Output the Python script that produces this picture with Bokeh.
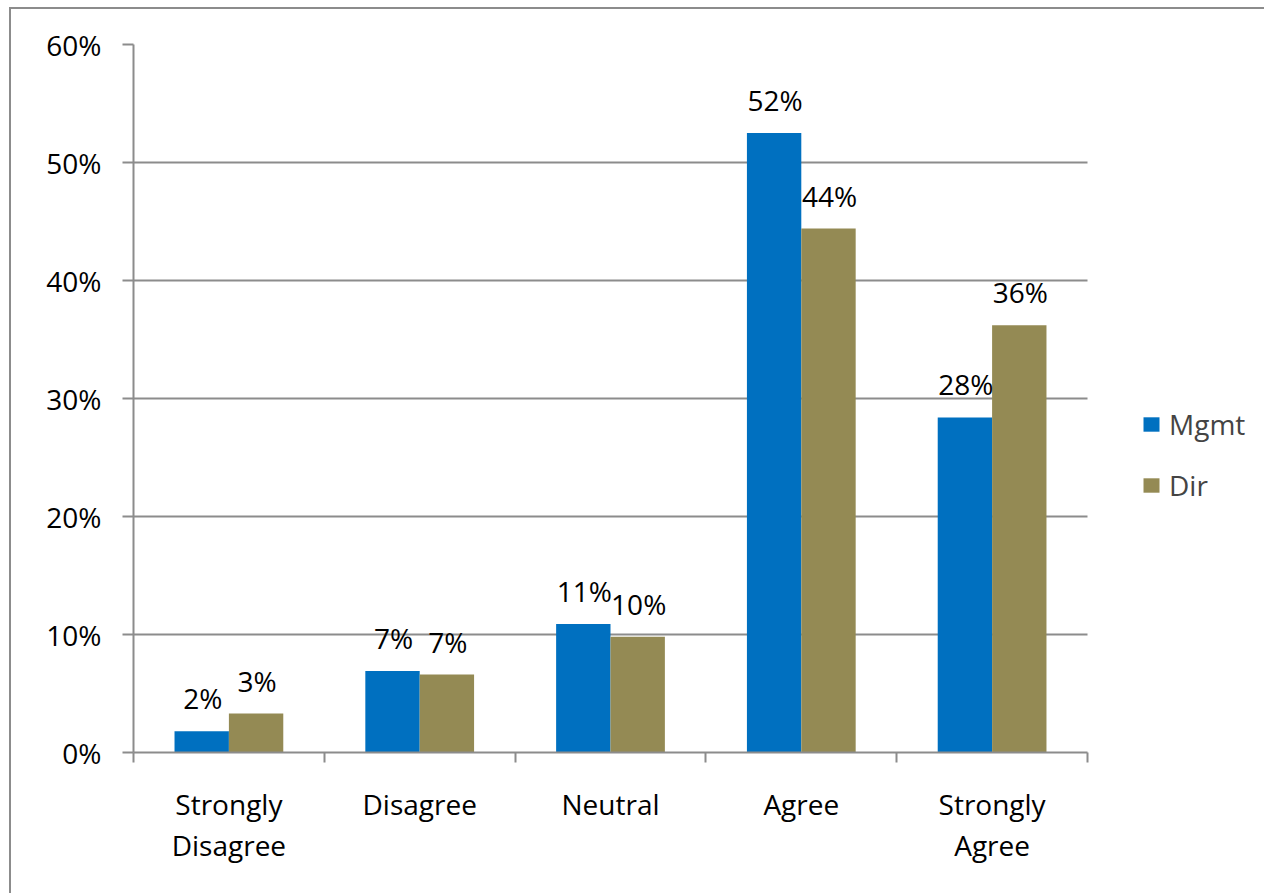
from bokeh.plotting import figure
from bokeh.models import (Range1d, LinearAxis, FixedTicker, NumeralTickFormatter, Legend,
                          LegendItem, ColumnDataSource, Grid, BoxAnnotation)
from bokeh.embed import file_html
from bokeh.resources import INLINE
from bokeh.core.properties import value

# ---- data ----
categories = ["Strongly\nDisagree", "Disagree", "Neutral", "Agree", "Strongly\nAgree"]
series_names = ["Mgmt", "Dir"]
mgmt = [0.018, 0.069, 0.109, 0.525, 0.284]
dir_ = [0.033, 0.066, 0.098, 0.444, 0.362]
y_ticks = [0.0, 0.1, 0.2, 0.3, 0.4, 0.5, 0.6]

FONT = "Open Sans"
FS = "28px"
GRID = "#8C8C8C"
BLUE = "#0070C0"
OLIVE = "#948A54"

W, H = 1266, 895
ML, MT, BW = 9, 7, 2          # outer chart border offset / width
PLOT_L, PLOT_R, PLOT_T, PLOT_B = 133, 1087, 44, 752   # plot area in page pixels
n = len(categories)
# frame extends to the right edge so the legend can sit inside it;
# the category axis covers only [0, n]
x_end = n * (W - PLOT_L) / (PLOT_R - PLOT_L)

p = figure(width=W - ML - BW, height=H - MT - BW, x_range=Range1d(0, x_end),
           y_range=Range1d(0, 0.6),
           x_axis_type=None, y_axis_type=None, output_backend="svg", toolbar_location=None,
           min_border_left=PLOT_L - ML - BW, min_border_right=0,
           min_border_top=PLOT_T - MT - BW, min_border_bottom=H - PLOT_B)
p.styles = {"border-left": "%dpx solid %s" % (BW, GRID), "border-top": "%dpx solid %s" % (BW, GRID),
            "margin-left": "%dpx" % ML, "margin-top": "%dpx" % MT}
p.outline_line_color = None
p.background_fill_color = "white"
p.border_fill_color = "white"

# y axis
yax = LinearAxis(ticker=FixedTicker(ticks=y_ticks), formatter=NumeralTickFormatter(format="0%"))
yax.axis_line_color = GRID
yax.axis_line_width = 2
yax.major_tick_line_color = GRID
yax.major_tick_line_width = 2
yax.major_tick_out = 11
yax.major_tick_in = 0
yax.minor_tick_line_color = None
yax.major_label_standoff = 21
yax.major_label_text_font = FONT
yax.major_label_text_font_size = FS
yax.major_label_text_color = "black"
p.add_layout(yax, "left")
grid = Grid(dimension=1, ticker=yax.ticker, grid_line_color=GRID, grid_line_width=2)
cover = False
try:
    grid.cross_bounds = (0, n)
except Exception:
    cover = True
p.add_layout(grid)
if cover:
    p.add_layout(BoxAnnotation(left=n, fill_color="white", fill_alpha=1, line_color=None))

# x axis: boundary ticks
bounds = list(range(n + 1))
xtick_ax = LinearAxis(ticker=FixedTicker(ticks=bounds), bounds=(0, n),
                      major_label_overrides={b: "" for b in bounds})
xtick_ax.axis_line_color = GRID
xtick_ax.axis_line_width = 2
xtick_ax.major_tick_line_color = GRID
xtick_ax.major_tick_line_width = 2
xtick_ax.major_tick_out = 10
xtick_ax.major_tick_in = 0
xtick_ax.minor_tick_line_color = None
xtick_ax.major_label_standoff = 0
p.add_layout(xtick_ax, "below")

# x axis: category labels at centres
centers = [i + 0.5 for i in range(n)]
xlab_ax = LinearAxis(ticker=FixedTicker(ticks=centers),
                     major_label_overrides={c: cat for c, cat in zip(centers, categories)})
xlab_ax.axis_line_color = None
xlab_ax.major_tick_line_color = None
xlab_ax.minor_tick_line_color = None
xlab_ax.major_tick_out = 0
xlab_ax.major_tick_in = 0
xlab_ax.major_label_standoff = 22
xlab_ax.major_label_text_font = FONT
xlab_ax.major_label_text_font_size = FS
xlab_ax.major_label_text_line_height = 1.08
xlab_ax.major_label_text_color = "black"
p.add_layout(xlab_ax, "below")

# bars
off = 0.1425
bw = 0.285
src_m = ColumnDataSource(dict(x=[c - off for c in centers], top=mgmt,
                              lab=["%d%%" % round(v * 100) for v in mgmt]))
src_d = ColumnDataSource(dict(x=[c + off for c in centers], top=dir_,
                              lab=["%d%%" % round(v * 100) for v in dir_]))
r1 = p.vbar(x="x", top="top", bottom=0, width=bw, source=src_m, fill_color=BLUE, line_color=None)
r2 = p.vbar(x="x", top="top", bottom=0, width=bw, source=src_d, fill_color=OLIVE, line_color=None)

for src in (src_m, src_d):
    p.text(x="x", y="top", text="lab", source=src, text_font=value(FONT), text_font_size=FS,
           text_align="center", text_baseline="alphabetic", y_offset=-33, x_offset=1,
           text_color="black")

legend = Legend(items=[LegendItem(label=series_names[0], renderers=[r1]),
                       LegendItem(label=series_names[1], renderers=[r2])],
                location=(1141 - PLOT_L, 248), orientation="vertical")
legend.glyph_width = 20
legend.glyph_height = 18
legend.label_standoff = 8
legend.label_text_font = FONT
legend.label_text_font_size = FS
legend.label_height = 30
legend.spacing = 23
legend.padding = 0
legend.margin = 0
legend.border_line_color = None
legend.background_fill_alpha = 0
p.add_layout(legend)

open("out.html", "w").write(file_html(p, INLINE))
